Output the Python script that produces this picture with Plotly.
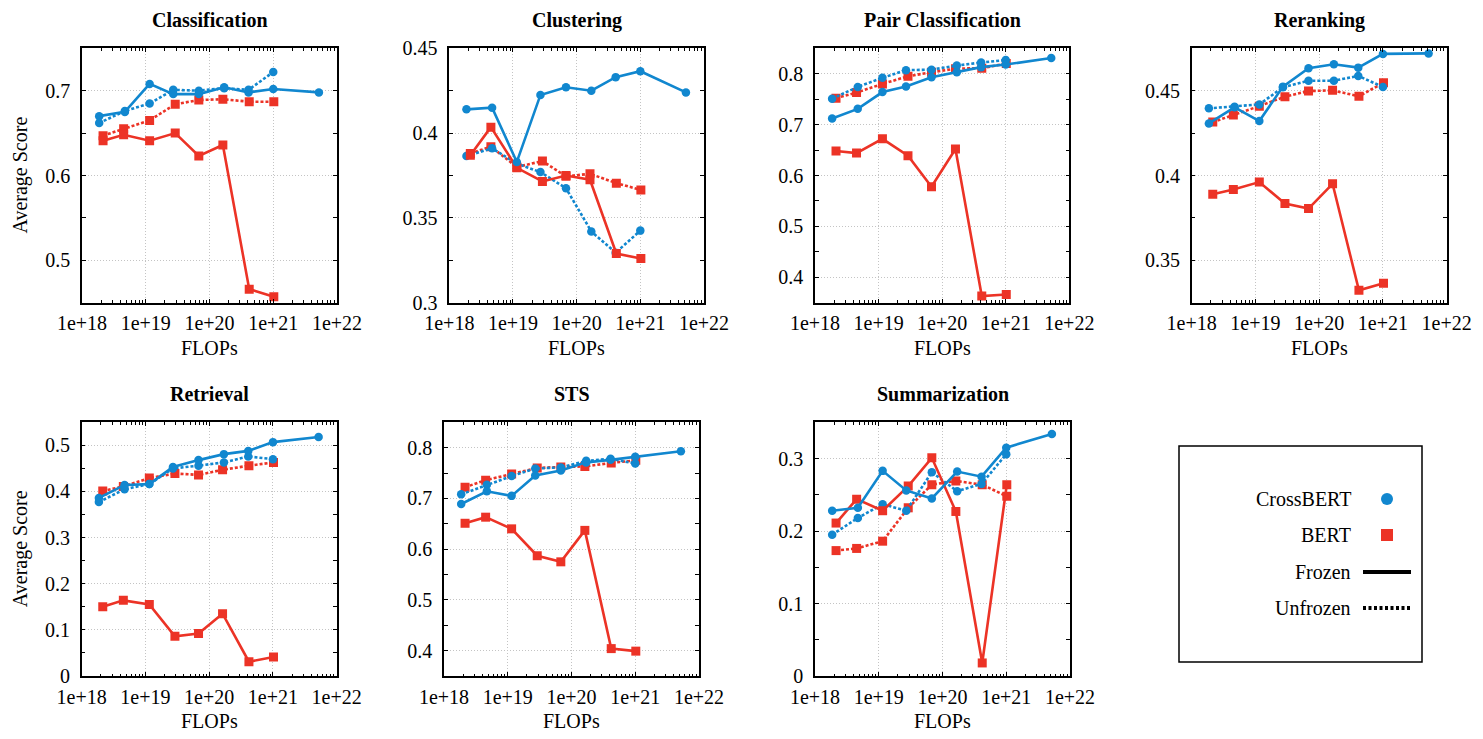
import plotly.graph_objects as go

W, H = 1483, 739
FONT = "Liberation Serif"
BLUE = "#1187cf"
RED = "#ec3326"

# ---------------- data ----------------
crossbert_flops = [1.86e18, 4.7e18, 1.15e19, 2.7e19, 6.8e19, 1.7e20, 4.1e20, 1.0e21, 5.2e21]
bert_flops = [2.14e18, 4.5e18, 1.15e19, 2.9e19, 6.8e19, 1.62e20, 4.2e20, 1.02e21]

x_tick_vals = [1e18, 1e19, 1e20, 1e21, 1e22]
x_tick_text = ["1e+18", "1e+19", "1e+20", "1e+21", "1e+22"]

task_names = ["Classification", "Clustering", "Pair Classification", "Reranking",
              "Retrieval", "STS", "Summarization"]

cls_cross_frozen = [0.670, 0.675, 0.708, 0.696, 0.696, 0.704, 0.698, 0.702, 0.698]
cls_cross_unfrozen = [0.662, 0.676, 0.685, 0.701, 0.700, 0.703, 0.701, 0.722]
cls_bert_frozen = [0.641, 0.648, 0.641, 0.650, 0.623, 0.636, 0.466, 0.457]
cls_bert_unfrozen = [0.647, 0.655, 0.665, 0.684, 0.689, 0.690, 0.687, 0.687]

clu_cross_frozen = [0.414, 0.415, 0.383, 0.4225, 0.427, 0.425, 0.433, 0.4365, 0.424]
clu_cross_unfrozen = [0.3865, 0.391, 0.382, 0.377, 0.3675, 0.342, 0.3295, 0.3425]
clu_bert_frozen = [0.387, 0.4035, 0.3795, 0.3715, 0.375, 0.3725, 0.329, 0.326]
clu_bert_unfrozen = [0.388, 0.392, 0.380, 0.3835, 0.3745, 0.376, 0.3705, 0.3665]

pair_cross_frozen = [0.712, 0.731, 0.764, 0.775, 0.793, 0.803, 0.813, 0.818, 0.831]
pair_cross_unfrozen = [0.751, 0.774, 0.792, 0.807, 0.808, 0.816, 0.822, 0.827]
pair_bert_frozen = [0.648, 0.644, 0.672, 0.639, 0.578, 0.652, 0.363, 0.366]
pair_bert_unfrozen = [0.752, 0.763, 0.780, 0.795, 0.803, 0.810, 0.811, 0.820]

rer_cross_frozen = [0.4307, 0.4402, 0.4321, 0.4524, 0.4632, 0.4656, 0.4636, 0.4717, 0.4720]
rer_cross_unfrozen = [0.4396, 0.4406, 0.4419, 0.4520, 0.4559, 0.4559, 0.4587, 0.4522]
rer_bert_frozen = [0.3890, 0.3917, 0.3961, 0.3835, 0.3805, 0.3951, 0.3323, 0.3364]
rer_bert_unfrozen = [0.4315, 0.4356, 0.4409, 0.4465, 0.4498, 0.4502, 0.4467, 0.4547]

ret_cross_frozen = [0.386, 0.414, 0.416, 0.453, 0.468, 0.481, 0.488, 0.507, 0.518]
ret_cross_unfrozen = [0.377, 0.405, 0.416, 0.450, 0.456, 0.463, 0.476, 0.470]
ret_bert_frozen = [0.150, 0.164, 0.155, 0.086, 0.092, 0.135, 0.031, 0.041]
ret_bert_unfrozen = [0.401, 0.411, 0.429, 0.439, 0.436, 0.447, 0.456, 0.463]

sts_cross_frozen = [0.689, 0.714, 0.705, 0.745, 0.755, 0.771, 0.776, 0.782, 0.793]
sts_cross_unfrozen = [0.708, 0.727, 0.744, 0.759, 0.761, 0.774, 0.778, 0.769]
sts_bert_frozen = [0.651, 0.663, 0.640, 0.587, 0.575, 0.637, 0.404, 0.399]
sts_bert_unfrozen = [0.722, 0.736, 0.748, 0.760, 0.762, 0.763, 0.770, 0.775]

sum_cross_frozen = [0.228, 0.232, 0.283, 0.256, 0.245, 0.282, 0.275, 0.315, 0.334]
sum_cross_unfrozen = [0.195, 0.218, 0.237, 0.228, 0.281, 0.255, 0.265, 0.306]
sum_bert_frozen = [0.211, 0.244, 0.228, 0.262, 0.301, 0.227, 0.018, 0.264]
sum_bert_unfrozen = [0.173, 0.176, 0.186, 0.232, 0.264, 0.269, 0.264, 0.248]

y_ranges = [[0.45, 0.75], [0.3, 0.45], [0.35, 0.85], [0.325, 0.475],
            [0.0, 0.55], [0.35, 0.85], [0.0, 0.35]]
y_tick_vals = [[0.5, 0.6, 0.7], [0.3, 0.35, 0.4, 0.45], [0.4, 0.5, 0.6, 0.7, 0.8],
               [0.35, 0.4, 0.45], [0, 0.1, 0.2, 0.3, 0.4, 0.5], [0.4, 0.5, 0.6, 0.7, 0.8],
               [0, 0.1, 0.2, 0.3]]
y_tick_text = [["0.5", "0.6", "0.7"], ["0.3", "0.35", "0.4", "0.45"],
               ["0.4", "0.5", "0.6", "0.7", "0.8"], ["0.35", "0.4", "0.45"],
               ["0", "0.1", "0.2", "0.3", "0.4", "0.5"], ["0.4", "0.5", "0.6", "0.7", "0.8"],
               ["0", "0.1", "0.2", "0.3"]]
y_minor_step = [0.05, 0.025, 0.05, 0.025, 0.05, 0.05, 0.05]

series = [
    (cls_cross_frozen, cls_cross_unfrozen, cls_bert_frozen, cls_bert_unfrozen),
    (clu_cross_frozen, clu_cross_unfrozen, clu_bert_frozen, clu_bert_unfrozen),
    (pair_cross_frozen, pair_cross_unfrozen, pair_bert_frozen, pair_bert_unfrozen),
    (rer_cross_frozen, rer_cross_unfrozen, rer_bert_frozen, rer_bert_unfrozen),
    (ret_cross_frozen, ret_cross_unfrozen, ret_bert_frozen, ret_bert_unfrozen),
    (sts_cross_frozen, sts_cross_unfrozen, sts_bert_frozen, sts_bert_unfrozen),
    (sum_cross_frozen, sum_cross_unfrozen, sum_bert_frozen, sum_bert_unfrozen),
]

# ---------------- layout geometry (pixels) ----------------
boxes = [  # (left, right, top, bottom)
    (82, 337, 48.3, 302.7),
    (449.3, 704, 48.3, 302.7),
    (815, 1069.3, 48.3, 302.7),
    (1191.7, 1446.7, 48.3, 302.7),
    (81.7, 336.7, 422.3, 676),
    (444, 699, 422.3, 676),
    (815, 1070, 422.3, 676),
]


def px(x):
    return x / W


def py(y):
    return 1 - y / H


fig = go.Figure()
layout = dict(
    width=W, height=H, autosize=False,
    margin=dict(l=0, r=0, t=0, b=0, pad=0),
    paper_bgcolor="white", plot_bgcolor="white",
    showlegend=False,
    font=dict(family=FONT, size=20, color="black"),
)
annotations = []
shapes = []

DOT = "3px,2px"
TICKFONT = dict(family=FONT, size=20, color="black")
LABELFONT = dict(family=FONT, size=20, color="black")

for i, name in enumerate(task_names):
    n = i + 1
    xa = "x" if n == 1 else f"x{n}"
    ya = "y" if n == 1 else f"y{n}"
    cf, cu, bf, bu = series[i]
    styles = [
        (bert_flops, bu, RED, "square", DOT, "BERT unfrozen"),
        (crossbert_flops, cu, BLUE, "circle", DOT, "CrossBERT unfrozen"),
        (bert_flops, bf, RED, "square", "solid", "BERT frozen"),
        (crossbert_flops, cf, BLUE, "circle", "solid", "CrossBERT frozen"),
    ]
    for xs, ys, col, sym, dash, nm in styles:
        fig.add_trace(go.Scatter(
            x=xs[:len(ys)], y=ys, xaxis=xa, yaxis=ya, name=nm,
            mode="lines+markers",
            line=dict(color=col, width=2.6, dash=dash),
            marker=dict(color=col, symbol=sym, size=9 if sym == "square" else 8.5),
        ))
    l, r, t, b = boxes[i]
    axis_common = dict(
        showline=True, linecolor="black", linewidth=1.5, mirror="allticks",
        ticks="inside", ticklen=4, tickcolor="black", tickwidth=1,
        showgrid=True, gridcolor="#c4c4c4", gridwidth=1, griddash="1px,2px",
        zeroline=False, tickfont=TICKFONT, automargin=False,
    )
    layout["xaxis" if n == 1 else f"xaxis{n}"] = dict(
        axis_common, type="log", domain=[px(l), px(r)], range=[18, 22],
        anchor=ya, tickmode="array", tickvals=x_tick_vals, ticktext=x_tick_text,
        ticklabelstandoff=2,
        minor=dict(ticks="inside", ticklen=2.5, tickcolor="black", dtick="D1", showgrid=False),
    )
    layout["yaxis" if n == 1 else f"yaxis{n}"] = dict(
        axis_common, domain=[py(b), py(t)], range=y_ranges[i], anchor=xa,
        tickmode="array", tickvals=y_tick_vals[i], ticktext=y_tick_text[i],
        ticklabelstandoff=6,
        minor=dict(ticks="inside", ticklen=4, tickcolor="black", tick0=0,
                   dtick=y_minor_step[i], showgrid=False),
    )
    # subplot title
    title_y = 20 if t < 200 else 394
    annotations.append(dict(
        text=f"<b>{name}</b>", xref="paper", yref="paper", x=px((l + r) / 2), y=py(title_y),
        xanchor="center", yanchor="middle", showarrow=False,
        font=dict(family=FONT, size=20, color="black"),
    ))
    # x-axis title
    annotations.append(dict(
        text="FLOPs", xref="paper", yref="paper", x=px((l + r) / 2), y=py(b + 45),
        xanchor="center", yanchor="middle", showarrow=False, font=LABELFONT,
    ))
    if i in (0, 4):
        annotations.append(dict(
            text="Average Score", xref="paper", yref="paper", x=px(20), y=py((t + b) / 2),
            xanchor="center", yanchor="middle", showarrow=False, textangle=-90,
            font=LABELFONT,
        ))

# ---------------- legend box ----------------
legend_labels = ["CrossBERT", "BERT", "Frozen", "Unfrozen"]
legend_rows = [499, 535, 572, 608]
shapes.append(dict(type="rect", xref="paper", yref="paper",
                   x0=px(1179), x1=px(1422), y0=py(662), y1=py(446),
                   line=dict(color="black", width=1.5), fillcolor="rgba(0,0,0,0)"))
for lab, ry in zip(legend_labels, legend_rows):
    annotations.append(dict(
        text=lab, xref="paper", yref="paper", x=px(1353), y=py(ry),
        xanchor="right", yanchor="middle", showarrow=False, font=LABELFONT,
    ))
shapes.append(dict(type="circle", xref="paper", yref="paper",
                   x0=px(1381), x1=px(1393), y0=py(505), y1=py(493),
                   line=dict(color=BLUE, width=0), fillcolor=BLUE))
shapes.append(dict(type="rect", xref="paper", yref="paper",
                   x0=px(1381), x1=px(1393), y0=py(541), y1=py(529),
                   line=dict(color=RED, width=0), fillcolor=RED))
shapes.append(dict(type="line", xref="paper", yref="paper",
                   x0=px(1363), x1=px(1411), y0=py(572), y1=py(572),
                   line=dict(color="black", width=4)))
shapes.append(dict(type="line", xref="paper", yref="paper",
                   x0=px(1363), x1=px(1411), y0=py(608), y1=py(608),
                   line=dict(color="black", width=4, dash="3px,2.5px")))

layout["annotations"] = annotations
layout["shapes"] = shapes
fig.update_layout(**layout)
fig.write_html("out.html")
